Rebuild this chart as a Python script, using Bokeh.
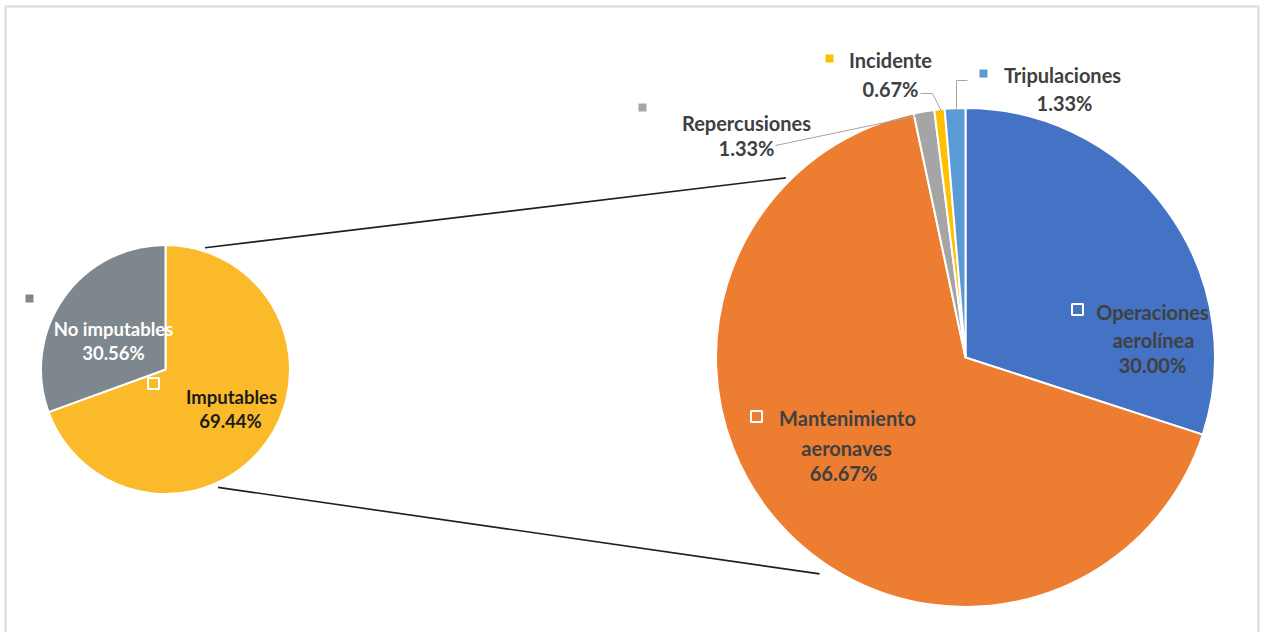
import numpy as np
from bokeh.plotting import figure
from bokeh.models import Range1d
from bokeh.core.properties import value
from bokeh.embed import file_html
from bokeh.resources import INLINE

# ---- data ----
left_cats = ["Imputables", "No imputables"]
left_vals = [69.44, 30.56]
right_cats = ["Operaciones aerolínea", "Mantenimiento aeronaves", "Repercusiones", "Incidente", "Tripulaciones"]
right_vals = [30.00, 66.67, 1.33, 0.67, 1.33]

# ---- styles ----
left_colors = ["#FBBA29", "#7E878D"]
right_colors = ["#4472C4", "#ED7D31", "#A5A5A5", "#FFC000", "#5B9BD5"]
FONT = value("Lato")
TXT = "#404040"

W, H = 1262, 632
TOP = H  # screen y of data y=0


def Y(sy):
    return TOP - np.asarray(sy, dtype=float)


p = figure(width=W, height=H, x_range=Range1d(0, W), y_range=Range1d(0, H),
           output_backend="svg", toolbar_location=None, min_border=0)
p.axis.visible = False
p.grid.visible = False
p.outline_line_color = None

# chart frame
p.quad(left=[5], right=[1258], top=list(Y([6])), bottom=list(Y([660])),
       fill_alpha=0, line_color="#D9D9D9", line_width=2)


def angles(vals):
    v = np.asarray(vals, dtype=float)
    c = np.concatenate([[0], np.cumsum(v)]) / v.sum()
    start = np.pi / 2 - 2 * np.pi * c[:-1]
    end = np.pi / 2 - 2 * np.pi * c[1:]
    return start, end


# pie geometry (screen coords)
LC = (165, 369); LR = 124.5
RC = (965, 357); RR = 249.5

ls, le = angles(left_vals)
p.wedge(x=[LC[0]] * len(left_vals), y=list(Y([LC[1]] * len(left_vals))), radius=LR,
        start_angle=list(ls), end_angle=list(le), direction="clock",
        fill_color=left_colors, line_color="white", line_width=2)

rs, re_ = angles(right_vals)
p.wedge(x=[RC[0]] * len(right_vals), y=list(Y([RC[1]] * len(right_vals))), radius=RR,
        start_angle=list(rs), end_angle=list(re_), direction="clock",
        fill_color=right_colors, line_color="white", line_width=2)


# connector lines between pies
def polar(c, r, deg):
    a = np.deg2rad(deg)
    return c[0] + r * np.cos(a), Y(c[1]) + r * np.sin(a)


for la, lr, ra, rr in [(72, 128, 135, 254), (-66, 129, -124, 261)]:
    x0, y0 = polar(LC, lr, la)
    x1, y1 = polar(RC, rr, ra)
    p.line([x0, x1], [y0, y1], line_color="#1F1F1F", line_width=1.6)

# leader lines for small slices (screen coords)
leaders = [
    ([775, 913, 919], [145, 116, 115]),
    ([920, 932, 941], [93, 93, 111]),
    ([967, 956, 956], [80, 80, 110]),
]
for xs, ys in leaders:
    p.line(xs, list(Y(ys)), line_color="#A6A6A6", line_width=1)

pct = lambda v: f"{v:.2f}%"


# ---- labels ----
def lab(x, y, t, color=TXT, size="20px", align="center"):
    p.text(x=[x], y=list(Y([y])), text=[t], text_align=align, text_baseline="middle",
           text_font=FONT, text_font_style="bold", text_font_size=size, text_color=color)


# left pie
lab(113, 328, left_cats[1], color="white", size="18.5px")
lab(113, 352, pct(left_vals[1]), color="white", size="18.5px")
lab(231, 396, left_cats[0], color="#1A1A1A", size="18.5px")
lab(230, 420, pct(left_vals[0]), color="#1A1A1A", size="18.5px")

# right pie
op1, op2 = right_cats[0].split(" ")
lab(1152, 311, op1)
lab(1153, 339, op2)
lab(1152, 364, pct(right_vals[0]))

m1, m2 = right_cats[1].split(" ")
lab(847, 417, m1)
lab(846, 447, m2)
lab(843, 472, pct(right_vals[1]))

lab(746, 122, right_cats[2])
lab(746, 147, pct(right_vals[2]))
lab(890, 59, right_cats[3])
lab(890, 88, pct(right_vals[3]))
lab(1062, 74, right_cats[4])
lab(1064, 102, pct(right_vals[4]))

# legend-key squares (Excel artefacts)
p.scatter(x=[153, 1077, 756], y=list(Y([383, 309, 416])), marker="square", size=11,
          fill_alpha=0, line_color="white", line_width=2)
p.scatter(x=[29, 642, 829, 983], y=list(Y([298, 107, 58, 73])), marker="square", size=8,
          fill_color=[left_colors[1], right_colors[2], right_colors[3], right_colors[4]],
          line_color=None)

open("out.html", "w").write(file_html(p, INLINE))
